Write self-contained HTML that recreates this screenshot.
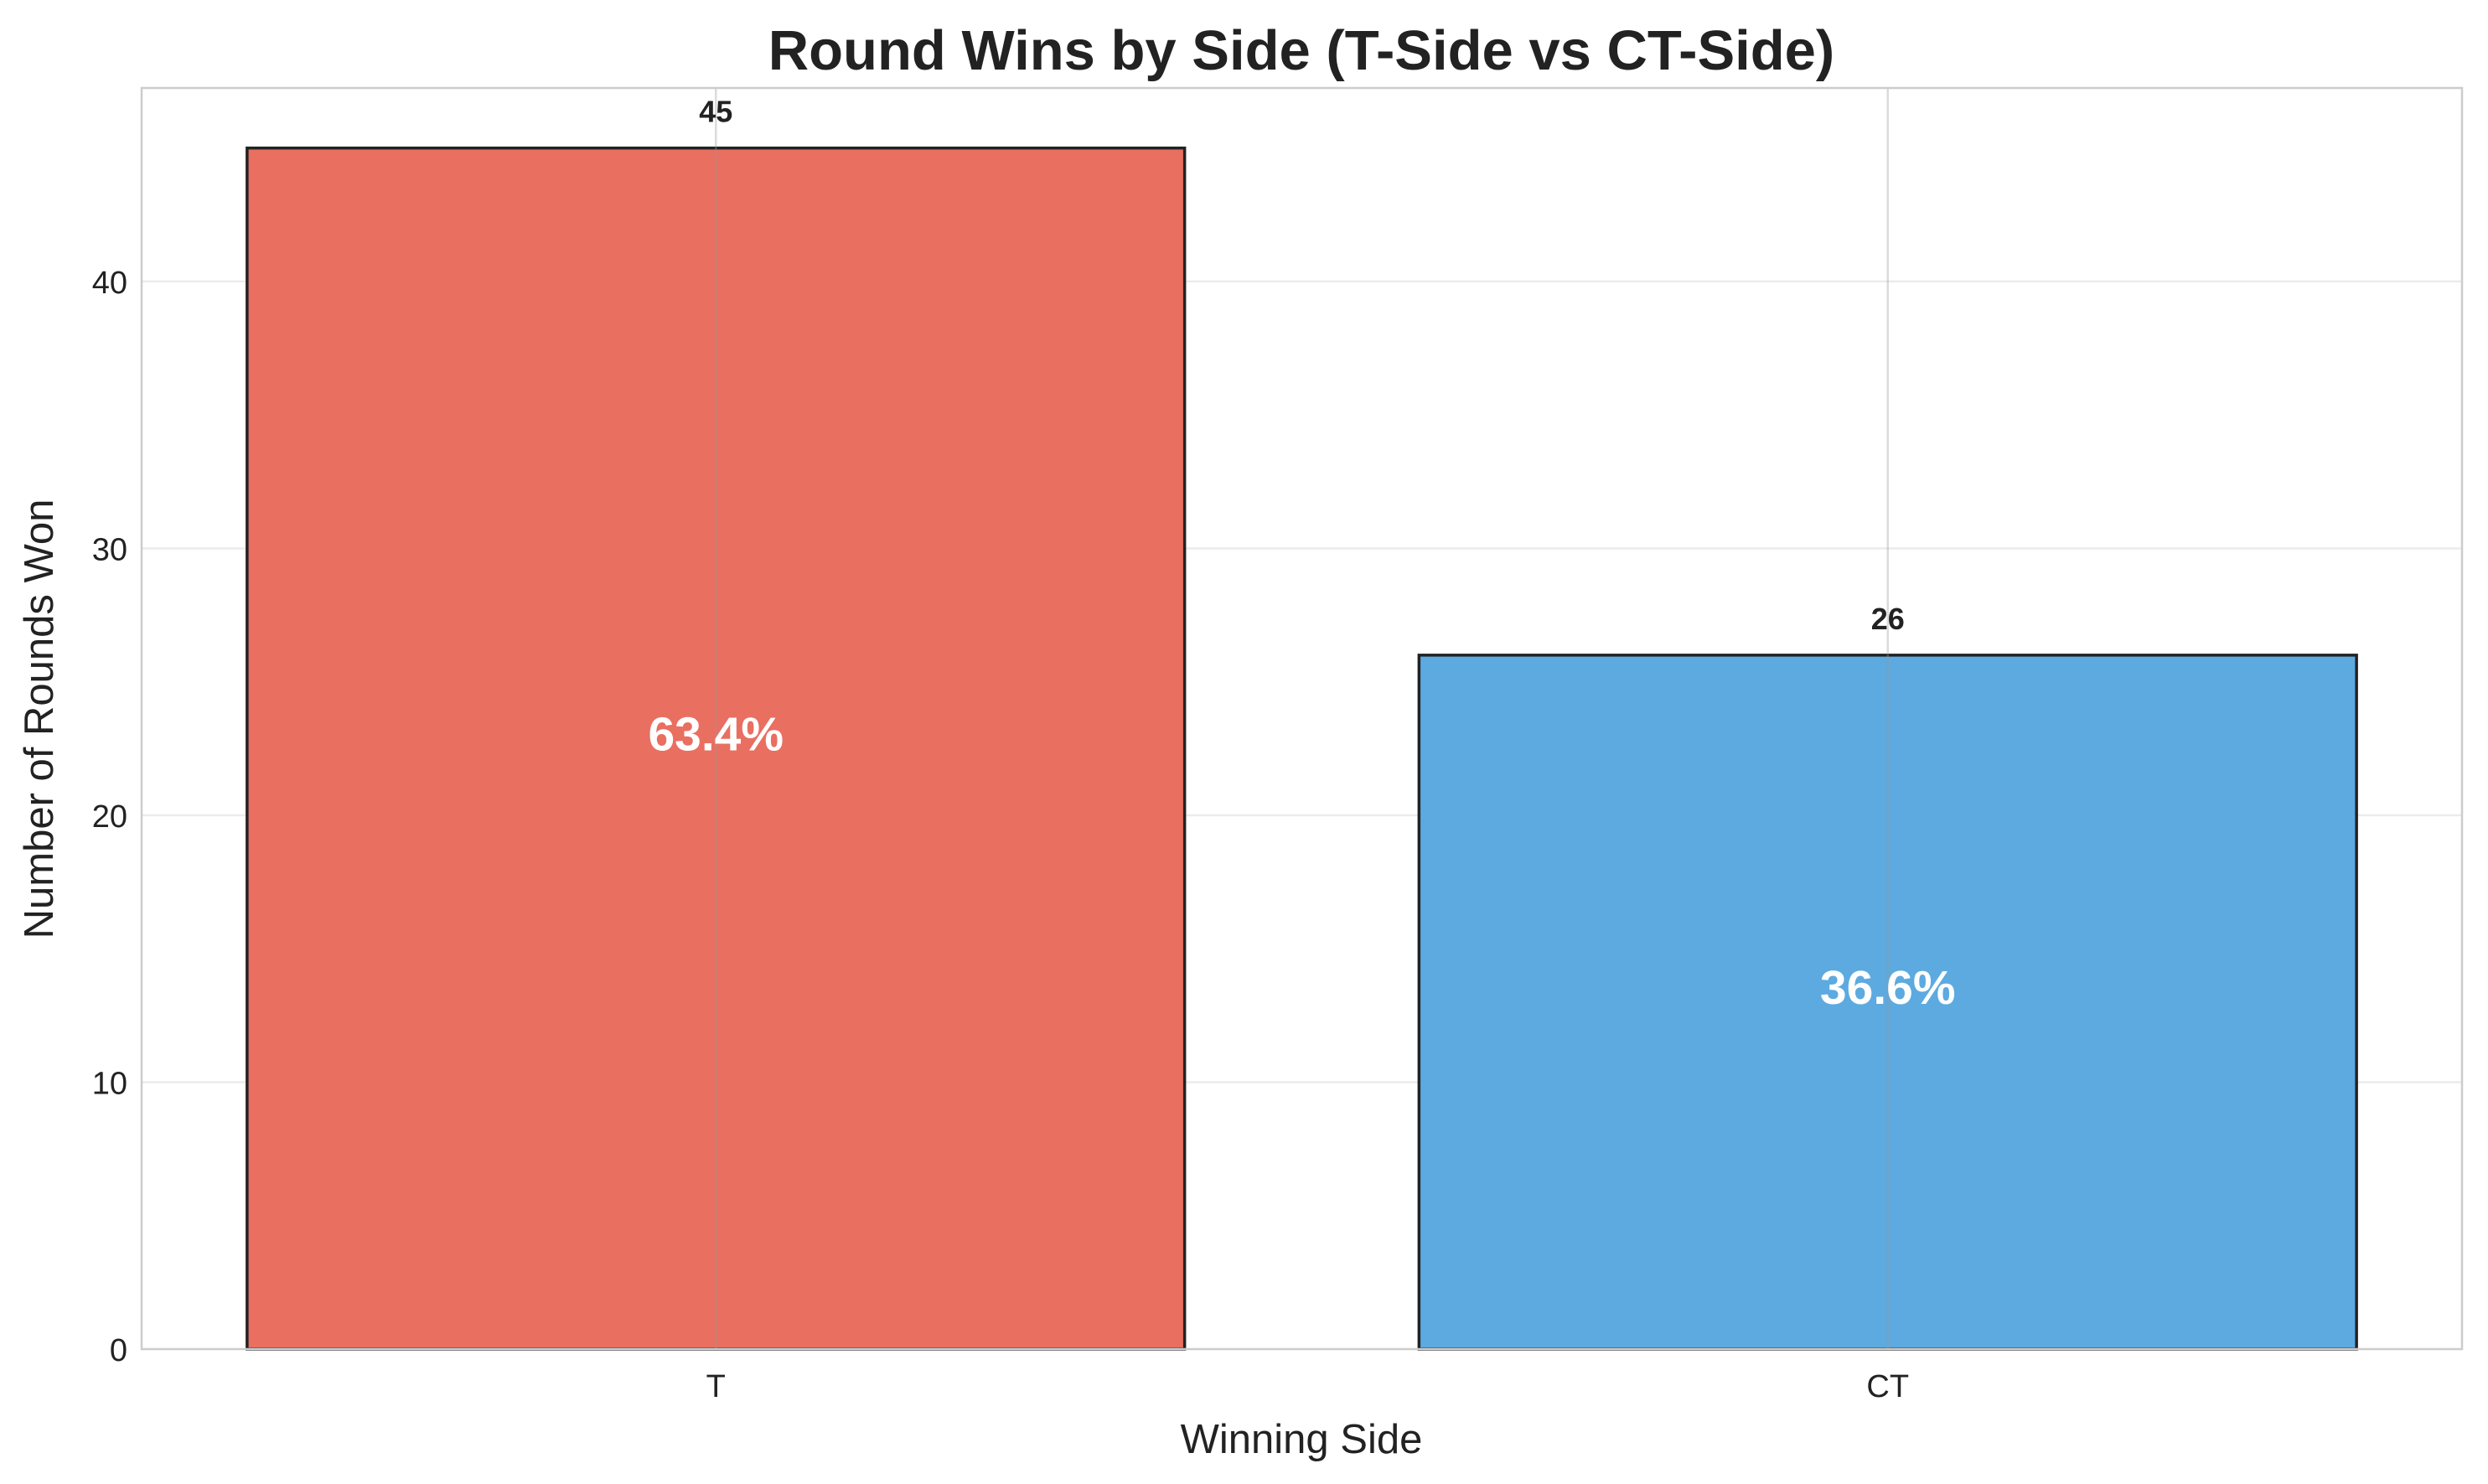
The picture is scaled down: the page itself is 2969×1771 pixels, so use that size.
<!DOCTYPE html>
<html><head><meta charset="utf-8"><style>
body{margin:0;background:#fff}
svg{display:block;font-family:"Liberation Sans",Arial,sans-serif}
</style></head><body>
<svg id="chart" width="2969" height="1771" viewBox="0 0 2969 1771" xmlns="http://www.w3.org/2000/svg">
<rect width="2969" height="1771" fill="#fff"/>
<text x="1553" y="83" text-anchor="middle" font-size="67" font-weight="bold" fill="#222">Round Wins by Side (T-Side vs CT-Side)</text>
<text x="1553" y="1734" text-anchor="middle" font-size="49" fill="#222">Winning Side</text>
<text transform="translate(63,858) rotate(-90)" text-anchor="middle" font-size="49" fill="#222">Number of Rounds Won</text>
<g id="grid"></g><g id="bars"></g><g id="vgrid"></g><g id="labels"></g>
<rect x="169" y="105" width="2769" height="1505" fill="none" stroke="#ccc" stroke-width="2.5"/>
<g id="ticks"></g>
</svg>
<script>
const categories=["T","CT"];
const values=[45,26];
const percents=["63.4%","36.6%"];
const yTicks=[0,10,20,30,40];
const colors=["#e96f61","#5caae0"];
const L=169,R=2938,T=105,B=1610;
const xmin=-0.49,xmax=1.49,ymax=47.25;
const x=v=>L+(v-xmin)/(xmax-xmin)*(R-L);
const y=v=>B-v/ymax*(B-T);
const NS="http://www.w3.org/2000/svg";
function mk(tag,attrs,parent,txt){const e=document.createElementNS(NS,tag);for(const k in attrs)e.setAttribute(k,attrs[k]);if(txt!==undefined)e.textContent=txt;document.getElementById(parent).appendChild(e);return e;}
yTicks.forEach(t=>{
 if(t>0){const g=mk('line',{x1:L,x2:R,y1:y(t),y2:y(t),stroke:'#ebebeb','stroke-width':2.5},'grid');
 
 }
 const tl=mk('text',{x:152,y:y(t)+14,'text-anchor':'end','font-size':38,fill:'#222'},'ticks',String(t));
 
 
});
categories.forEach((c,i)=>{
 const x0=x(i-0.4),x1=x(i+0.4);
 const b=mk('rect',{x:x0,y:y(values[i]),width:x1-x0,height:y(0)-y(values[i]),fill:colors[i],stroke:'#222','stroke-width':3.5},'bars');
 
 
 const vg=mk('line',{x1:x(i),x2:x(i),y1:T,y2:B,stroke:'#999','stroke-opacity':0.35,'stroke-width':2.5},'vgrid');
 
 
 const vl=mk('text',{x:x(i),y:y(values[i])-31,'text-anchor':'middle','font-size':36,'font-weight':'bold',fill:'#222'},'labels',String(values[i]));
 
 
 const pl=mk('text',{x:x(i),y:y(values[i]/2)+2,'text-anchor':'middle','font-size':57,'font-weight':'bold',fill:'#fff'},'labels',percents[i]);
 
 
 const xl=mk('text',{x:x(i),y:1667,'text-anchor':'middle','font-size':38,fill:'#222'},'ticks',c);
 
 
});
</script>
</body></html>
